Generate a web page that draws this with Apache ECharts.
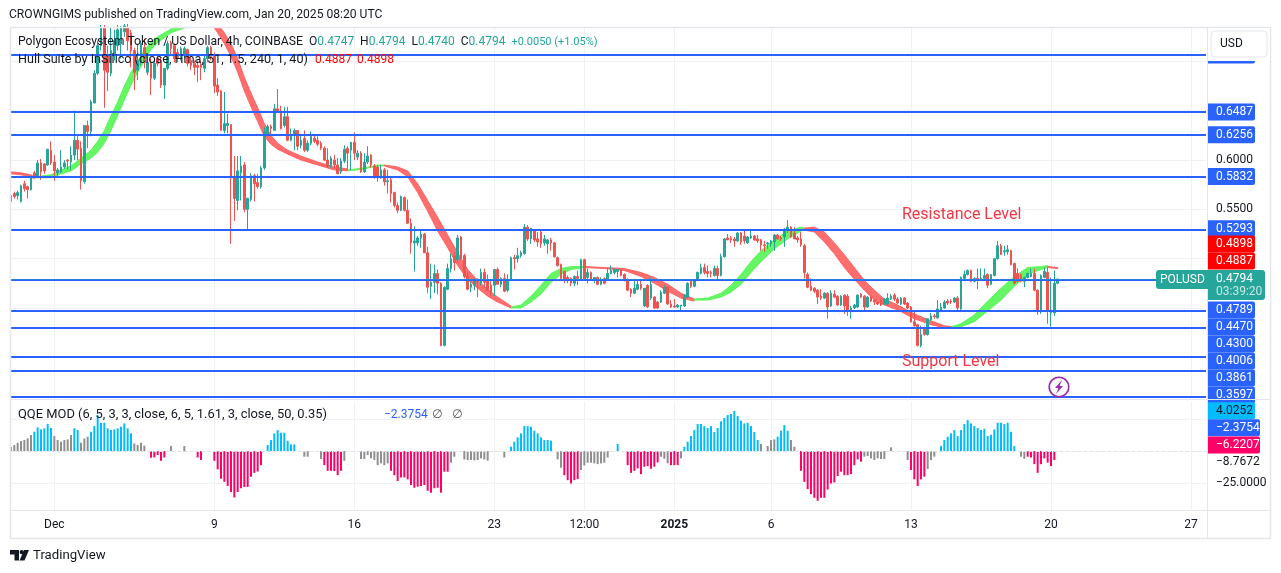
<!DOCTYPE html>
<html><head><meta charset="utf-8">
<style>html,body{margin:0;padding:0;background:#fff}#c{width:1281px;height:573px}</style>
<script src="https://cdn.jsdelivr.net/npm/echarts@6/dist/echarts.min.js"></script>
</head><body><div id="c"></div>
<script>
// candles: [open, high, low, close] in thousandths of a dollar, one row per 4h bar
const ohlc = [
[558,568,553,564],[566,568,561,563],[564,569,560,567],[558,575,557,574],[576,579,568,571],[573,574,561,570],[570,584,569,583],[587,589,582,583],[583,600,583,597],[597,601,580,588],
[596,597,586,589],[595,611,594,611],[610,619,595,597],[598,605,579,589],[587,592,584,590],[588,610,587,593],[593,600,591,597],[600,601,590,599],[598,614,590,605],[605,650,600,620],
[620,625,600,611],[612,619,570,579],[578,635,576,635],[635,640,612,629],[629,661,624,659],[658,691,657,688],[688,721,686,716],[716,737,711,734],[734,737,653,691],[706,716,670,689],
[688,734,685,711],[706,732,701,721],[716,737,711,732],[718,736,703,734],[730,738,725,736],[734,738,711,721],[729,732,694,711],[711,714,671,689],[691,718,681,701],[699,721,696,718],
[714,723,693,699],[689,706,686,699],[698,703,666,683],[683,701,681,698],[703,705,695,698],[699,704,673,676],[676,693,662,693],[693,721,691,718],[719,721,706,713],[716,718,699,703],
[709,713,699,704],[706,715,701,713],[706,715,703,713],[712,713,695,698],[701,706,691,696],[698,701,686,694],[696,701,679,694],[697,701,681,694],[693,706,689,703],[703,716,699,714],
[714,716,701,705],[705,709,668,675],[676,683,665,669],[670,671,630,630],[630,669,627,637],[635,647,627,637],[636,636,515,582],[582,604,538,561],[559,604,549,589],[587,604,559,594],
[595,598,547,550],[550,562,530,561],[560,587,558,584],[584,586,558,576],[577,586,571,573],[573,594,571,592],[592,633,590,629],[625,636,624,634],[634,636,624,632],[630,657,630,652],
[652,672,648,649],[649,655,631,632],[635,654,633,644],[644,654,619,620],[620,632,619,625],[625,632,610,630],[630,630,610,614],[615,626,612,620],[622,630,608,610],[610,620,608,617],
[617,629,615,624],[622,625,617,619],[620,624,614,616],[617,619,610,612],[612,614,599,600],[600,612,592,594],[594,604,592,602],[600,605,592,595],[595,602,586,586],[588,602,586,599],
[599,615,597,611],[612,614,590,607],[610,618,590,618],[618,628,600,607],[603,610,600,607],[607,609,587,588],[588,607,587,598],[598,614,596,604],[605,606,592,595],[594,596,581,583],
[593,595,578,582],[582,595,581,590],[590,592,574,578],[578,590,566,579],[580,583,557,566],[567,568,552,554],[554,557,546,549],[549,564,548,563],[562,563,548,549],[549,560,535,536],
[536,541,505,516],[516,533,487,518],[516,523,513,521],[521,528,511,525],[525,526,506,506],[506,512,465,471],[472,495,459,476],[476,494,465,485],[485,489,464,475],[475,476,411,412],
[412,472,411,471],[469,495,468,490],[490,505,486,500],[503,507,488,496],[499,524,497,521],[522,523,498,500],[503,505,480,482],[482,486,468,469],[471,477,466,474],[473,480,468,478],
[479,480,461,477],[475,490,473,486],[486,490,470,476],[477,484,467,468],[473,477,462,465],[473,489,462,489],[489,491,474,474],[474,481,471,480],[480,485,466,467],[468,484,466,479],
[479,502,478,501],[501,504,489,500],[500,511,496,503],[503,508,501,506],[505,535,504,532],[532,534,518,520],[520,531,515,531],[529,530,517,519],[520,527,512,517],[527,529,511,515],
[516,524,513,520],[515,520,505,519],[519,521,508,516],[516,517,501,502],[501,502,492,493],[494,495,479,480],[487,488,475,479],[481,483,475,479],[480,481,472,475],[475,483,472,482],
[482,488,473,480],[479,500,478,499],[499,500,478,479],[481,490,475,486],[486,487,478,479],[479,481,475,481],[481,482,473,474],[474,481,473,479],[480,481,474,475],[479,490,478,485],
[485,493,484,488],[486,490,484,489],[487,489,481,489],[489,490,482,483],[484,485,477,478],[479,480,467,468],[469,470,461,465],[465,478,464,470],[469,478,468,474],[474,479,468,470],
[452,470,451,470],[473,474,450,451],[460,481,458,474],[461,462,449,450],[456,457,449,450],[456,468,455,466],[465,473,464,471],[471,472,453,454],[454,458,450,451],[452,459,450,451],
[451,454,450,453],[452,453,446,453],[452,464,451,463],[461,476,460,475],[477,479,470,472],[472,479,471,478],[478,487,477,486],[485,495,484,491],[491,495,484,486],[487,493,481,485],
[486,488,481,485],[483,493,482,490],[490,493,479,483],[483,505,482,502],[502,521,501,520],[521,525,519,519],[521,523,516,519],[520,522,512,518],[518,527,517,526],[526,527,514,517],
[523,530,515,518],[516,523,515,522],[521,528,520,523],[523,524,518,519],[520,524,516,518],[519,520,508,514],[514,518,507,513],[515,517,510,516],[515,519,512,518],[517,525,508,524],
[524,525,519,520],[521,523,518,520],[522,531,512,530],[530,539,526,532],[532,533,521,522],[526,532,520,520],[521,523,516,519],[520,527,512,514],[513,515,480,486],[484,486,470,471],
[472,480,467,468],[470,471,465,467],[468,469,454,461],[462,469,458,460],[460,466,459,465],[465,466,439,451],[452,468,451,465],[464,468,460,461],[462,463,452,453],[453,463,452,462],
[463,464,444,452],[462,464,442,448],[448,452,439,450],[450,454,449,453],[451,464,450,463],[464,465,460,461],[462,463,446,451],[451,462,450,461],[461,462,456,457],[458,459,453,456],
[456,457,453,454],[458,459,452,453],[454,460,453,459],[454,465,452,460],[459,464,458,462],[463,465,457,459],[459,461,454,455],[454,461,453,460],[460,461,453,454],[455,456,449,450],
[451,452,435,436],[436,446,431,432],[433,434,411,412],[412,432,410,423],[429,431,422,423],[423,439,422,439],[438,445,437,442],[442,444,439,441],[440,458,439,449],[448,455,447,451],
[450,458,449,456],[457,459,453,455],[457,459,454,456],[456,461,455,460],[460,462,448,450],[449,482,448,481],[480,488,479,484],[484,489,483,488],[488,489,476,477],[477,481,476,480],
[480,490,469,479],[479,490,478,480],[480,490,479,483],[484,485,470,473],[474,484,473,484],[483,500,482,500],[500,518,499,513],[513,515,504,504],[507,513,503,508],[507,514,504,509],
[508,509,493,494],[495,496,474,475],[485,490,476,477],[484,485,476,477],[477,482,471,481],[481,486,480,485],[482,490,481,485],[485,490,467,468],[468,469,443,446],[446,484,444,483],
[481,491,480,487],[486,491,434,448],[445,481,431,448],[445,488,442,475],[475,479.4,474,479.4]
];
// Hull ribbon runs: [bar, upper edge, lower edge], thousandths
const hullRed1 = [[0,588,586],[3,587,585],[6,585,583],[7,583,581]];
const hullGreen1 = [[7,583,582],[12,585,582],[15,590,586],[18,594,589],[21,602,596],[24,610,602],[26,619,608],[28,630,617],[30,645,630],[32,659,645],[34,675,661],[36,689,676],[38,700,689],[40,711,700],[42,720,712],[44,725,719],[46,729,724],[48,733,729],[52,737,734],[56,743,741],[58,746,744]];
const hullRed2 = [[58,746,744],[60,745,739],[62,738,729],[64,729,718],[66,718,705],[68,703,689],[70,684,670],[72,668,654],[74,653,639],[76,637,624],[78,625,616],[80,617,611],[83,610,606],[87,604,600],[92,598,595],[97,593,590],[101,591,589]];
const hullGreen2 = [[101,590,589],[106,592,591],[110,595,594],[112,595,594]];
const hullRed3 = [[112,595,594],[116,593,590],[119,589,583],[122,576,567],[125,559,548],[128,542,528],[131,524,511],[134,506,493],[137,489,479],[140,478,470],[143,469,462],[146,461,456],[150,452,450]];
const hullGreen3 = [[150,451,450],[153,453,450],[156,462,456],[159,473,464],[162,485,476],[165,490,484],[168,492,489],[172,492,491]];
const hullRed4 = [[172,492,491],[178,491,490],[184,490,488],[189,486,482],[193,481,475],[197,474,467],[201,465,460],[205,459,457]];
const hullGreen4 = [[205,459,458],[209,460,458],[213,465,461],[216,473,466],[219,484,474],[222,497,486],[225,508,497],[229,519,510],[233,528,520],[237,532,528],[238,531,529]];
const hullRed5 = [[238,531,529],[241,532,527],[244,527,517],[247,516,505],[250,504,491],[253,491,479],[256,478,468],[259,468,458],[262,459,453],[266,453,448],[271,444,439],[276,437,433],[280,432,430],[282,431,430]];
const hullGreen5 = [[282,431,430],[285,434,431],[289,443,436],[293,457,447],[297,470,458],[301,482,472],[305,491,484],[309,492,489],[311,493,491]];
const hullRed6 = [[311,492,491],[314,491,490]];
const hullRuns = [[hullRed1,'r'],[hullGreen1,'g'],[hullRed2,'r'],[hullGreen2,'g'],[hullRed3,'r'],[hullGreen3,'g'],[hullRed4,'r'],[hullGreen4,'g'],[hullRed5,'r'],[hullGreen5,'g'],[hullRed6,'r']];
// QQE histogram: [bar, value]
const qqeGray = [[0,3.4],[1,4.7],[2,6.5],[3,7.8],[4,8.6],[5,9.9],[6,12.5],[13,11.7],[14,8.6],[15,7.3],[16,8.6],[17,9.1],[18,12.5],[21,6.5],[22,9.9],[23,11.2],[37,6],[38,4.7],[39,6.5],[40,4.2],[48,3.9],[52,3.9],[88,-4.4],[89,-4.4],[93,-6.2],[100,-7.6],[105,-6.2],[106,-6.2],[107,-3.1],[108,-5.7],[109,-7],[110,-11],[111,-9.6],[112,-11],[113,-9.6],[132,-9.1],[133,-4.4],[136,-6.5],[137,-7],[138,-7],[139,-7.3],[140,-7],[141,-5.7],[142,-6.5],[143,-7.5],[148,-5],[164,-6.5],[165,-13],[171,-14.8],[172,-11.2],[173,-9.1],[174,-9.1],[175,-9.6],[176,-10.2],[177,-9.6],[178,-9.1],[179,-5],[195,-4.4],[196,-6],[197,-9.6],[201,-5.7],[225,5.5],[227,3.9],[228,8.6],[229,9.1],[234,8.6],[235,3.4],[256,-4.4],[257,-3.9],[258,-5.7],[259,-7],[260,-5.7],[261,-6.2],[262,-6.2],[264,2.9],[269,-7],[275,-14],[276,-7],[277,-4.4],[303,-4.4],[304,-6]];
const qqeBlue = [[7,15.1],[8,18.5],[9,16.9],[10,17.7],[11,21.1],[12,18],[19,17.7],[20,16.4],[24,15.1],[25,19.5],[26,27.9],[27,22.1],[28,22.1],[29,17.7],[30,16.4],[31,16.9],[32,17.7],[33,19],[34,21.6],[35,17.7],[36,13.8],[77,4.7],[78,8.6],[79,13.8],[80,16.4],[81,14.3],[82,14.3],[83,8],[84,5.2],[85,5.2],[150,3.4],[151,7.3],[152,10.7],[153,13.8],[154,19.5],[155,19.5],[156,19],[157,15.9],[158,13.8],[159,10.7],[160,8.6],[161,8.6],[162,8.1],[182,5.5],[202,3.4],[203,7.3],[204,11.7],[205,16.4],[206,21.1],[207,21.1],[208,19.5],[209,18],[210,19.5],[211,14.8],[212,18],[213,23.2],[214,25.8],[215,28.1],[216,28.9],[217,31.3],[218,27.3],[219,23.7],[220,21.6],[221,22.1],[222,19.5],[223,14.8],[224,8.6],[230,11.2],[231,15.9],[232,20.3],[233,15.9],[279,3.9],[280,8.6],[281,11.2],[282,13.8],[283,16.4],[284,11.7],[285,16.4],[286,21.1],[287,24.2],[288,21.6],[289,19.5],[290,18],[291,16.4],[292,17.4],[293,11.7],[294,12.8],[295,16.9],[296,22.1],[297,22.1],[298,21.1],[299,22.1],[300,15.1],[301,3.9]];
const qqeRed = [[42,-5.2],[43,-5],[44,-3.1],[45,-7.6],[46,-5],[56,-5],[57,-7],[61,-7.6],[62,-14.3],[63,-21.6],[64,-24],[65,-27.3],[66,-32],[67,-36.2],[68,-32],[69,-29],[70,-28],[71,-28],[72,-20],[73,-17],[74,-16],[75,-11],[94,-11],[95,-15.4],[96,-15.4],[97,-15.6],[98,-18.8],[99,-15.4],[114,-15.4],[115,-18.8],[116,-23.4],[117,-20.6],[118,-20.6],[119,-22.1],[120,-26.5],[121,-28.6],[122,-27.8],[123,-27.3],[124,-26.5],[125,-31],[126,-32.5],[127,-29],[128,-28.6],[129,-32.5],[130,-16.1],[131,-16.1],[166,-18.8],[167,-22.7],[168,-25.3],[169,-22.7],[170,-21.9],[185,-11],[186,-17],[187,-15.4],[188,-13.5],[189,-18],[190,-12.2],[191,-11.7],[192,-13.8],[193,-12.2],[194,-8.9],[198,-11],[199,-11],[200,-11],[237,-15.4],[238,-24],[239,-29.7],[240,-33.6],[241,-36.5],[242,-38.8],[243,-36.5],[244,-36.5],[245,-30],[246,-25.3],[247,-24.5],[248,-19.5],[249,-16.1],[250,-18.8],[251,-18.8],[252,-18],[253,-11],[254,-6.5],[255,-8.3],[270,-14.8],[271,-22.1],[272,-27.3],[273,-22.1],[274,-20],[305,-4.4],[306,-5],[307,-10.2],[308,-17],[309,-10.2],[310,-5.7],[311,-9.1],[312,-11.7],[313,-7]];
// levels and labels
const levelPrices = [0.7065,0.6487,0.6256,0.5832,0.5293,0.4789,0.4470,0.4300,0.4006,0.3861,0.3597];
const lastPrice = 0.4794;
const priceTicks = [0.55,0.60];
const priceGrid = [0.40,0.45,0.50,0.55,0.60,0.65,0.70];
const tickBars = [13,61,103,145,172,199,228,270,312,354];
const tickTexts = ['Dec','9','16','23','12:00','2025','6','13','20','27'];
const barCount = 359;
// axis badges: text, price/value where the label sits after the stacking, fill, ink
const priceBadges = [
 ['',0.7065,'#2962ff','#fff'],['0.6487',0.6487,'#2962ff','#fff'],['0.6256',0.6256,'#2962ff','#fff'],['0.5832',0.5832,'#2962ff','#fff'],['0.5293',0.5303,'#2962ff','#fff'],
 ['0.3597',0.3617,'#2962ff','#fff'],['0.3861',0.3789,'#2962ff','#fff'],['0.4006',0.3962,'#2962ff','#fff'],['0.4300',0.4134,'#2962ff','#fff'],['0.4470',0.4306,'#2962ff','#fff'],['0.4789',0.4479,'#2962ff','#fff'],
 ['0.4887',0.4976,'#ff0000','#fff'],['0.4898',0.5148,'#ff0000','#fff']
];
const qqeBadges = [
 ['4.0252',31.5,'#00bcff','#131722'],['\u22122.3754',18.2,'#2962ff','#fff'],['\u22126.2207',4.7,'#ff0066','#fff'],['\u22128.7672',-8.77,'transparent','#131722']
];
const FONT = 'Roboto, "Noto Sans", sans-serif';
const GRID = '#f0f1f4', FRAME = '#e4e6ec', UP = '#26a69a', DOWN = '#ef5350';
const categories = Array.from({length:barCount},(_, i)=>{const k=tickBars.indexOf(i);return k<0?'':tickTexts[k];});
const isTick = i => tickBars.indexOf(i)>=0;
const candleData = ohlc.map(r=>[r[0]/1000,r[3]/1000,r[2]/1000,r[1]/1000]);

const chart = echarts.init(document.getElementById('c'),null,{renderer:'canvas',width:1281,height:573});

function badgeSeries(list,axisIdx,z){
  return {type:'custom',xAxisIndex:axisIdx,yAxisIndex:axisIdx,z:z,silent:true,clip:false,animation:false,
    data:list.map(b=>[0,b[1]]),
    renderItem(p,api){
      const b=list[p.dataIndex], cs=p.coordSys, y=api.coord([0,b[1]])[1], x=cs.x+cs.width+2;
      const w=b[0].length>6?52:47;
      const kids=[{type:'rect',shape:{x:x,y:y-8.5,width:w,height:17,r:[0,2,2,0]},style:{fill:b[2]}}];
      if(b[0])kids.push({type:'text',style:{x:x+8,y:y,text:b[0],fill:b[3],font:'12px '+FONT,textVerticalAlign:'middle'}});
      return {type:'group',children:kids};
    }};
}

const option = {
  animation:false,
  backgroundColor:'#ffffff',
  grid:[
    {left:9.33,top:28,width:1196.67,height:370},
    {left:9.33,top:402,width:1196.67,height:108}
  ],
  xAxis:[
    {type:'category',gridIndex:0,data:categories,boundaryGap:true,axisLine:{show:false},axisTick:{show:false},axisLabel:{show:false},
     splitLine:{show:true,interval:isTick,alignWithLabel:true,lineStyle:{color:GRID,width:1}}},
    {type:'category',gridIndex:1,data:categories,boundaryGap:true,axisLine:{show:false},axisTick:{show:false},
     splitLine:{show:true,interval:isTick,alignWithLabel:true,lineStyle:{color:GRID,width:1}},
     axisLabel:{interval:isTick,margin:9,fontFamily:FONT,fontSize:12,color:'#131722',hideOverlap:false,
       formatter:v=>v==='2025'?'{b|2025}':v,rich:{b:{fontWeight:'bold',fontSize:12,fontFamily:FONT,color:'#131722'}}}}
  ],
  yAxis:[
    {type:'value',gridIndex:0,position:'right',min:0.3587,max:0.7339,scale:true,axisLine:{show:false},axisTick:{show:false,customValues:priceGrid},
     splitLine:{show:true,customValues:priceGrid,lineStyle:{color:GRID,width:1}},
     axisLabel:{customValues:priceTicks,margin:10,fontFamily:FONT,fontSize:12,color:'#131722',formatter:v=>v.toFixed(4)}},
    {type:'value',gridIndex:1,position:'right',min:-46,max:38.3,axisLine:{show:false},axisTick:{show:false,customValues:[-25,25]},
     splitLine:{show:true,customValues:[-25,25],lineStyle:{color:GRID,width:1}},
     axisLabel:{customValues:[-25],margin:10,fontFamily:FONT,fontSize:12,color:'#131722',formatter:()=>'\u221225.0000'}}
  ],
  series:[
    {name:'Hull',type:'custom',xAxisIndex:0,yAxisIndex:0,z:2,silent:true,
     data:hullRuns.map((r,k)=>[k,0.5]),
     renderItem(p,api){
       const run=hullRuns[p.dataIndex], cs=p.coordSys;
       const up=run[0].map(k=>api.coord([k[0],k[1]/1000]));
       const lo=run[0].map(k=>api.coord([k[0],k[2]/1000])).reverse();
       return {type:'group',clipPath:{type:'rect',shape:{x:cs.x,y:cs.y,width:cs.width,height:cs.height}},children:[
         {type:'polygon',shape:{points:up.concat(lo)},
          style:{fill:run[1]==='r'?'rgba(255,90,90,0.88)':'rgba(80,245,80,0.88)',stroke:run[1]==='r'?'rgba(255,90,90,0.88)':'rgba(80,245,80,0.88)',lineWidth:1,lineJoin:'round'}}]};
     }},
    {name:'POLUSD',type:'candlestick',xAxisIndex:0,yAxisIndex:0,z:3,barWidth:2,silent:true,data:candleData,
     itemStyle:{color:UP,color0:DOWN,borderColor:UP,borderColor0:DOWN,borderColorDoji:UP,borderWidth:1},
     markLine:{silent:true,symbol:'none',precision:4,animation:false,label:{show:false},
       data:levelPrices.map(v=>({yAxis:v,lineStyle:{color:'#2962ff',width:2,type:'solid'}})).concat([{yAxis:lastPrice,lineStyle:{color:UP,width:1,type:'dotted'}}])}},
    {name:'QQE gray',type:'bar',xAxisIndex:1,yAxisIndex:1,barWidth:2,barGap:'-100%',z:3,silent:true,itemStyle:{color:'#8f8f8f'},data:qqeGray,
     markLine:{silent:true,symbol:'none',animation:false,label:{show:false},data:[{yAxis:0,lineStyle:{color:'#dfe1e6',width:1,type:'dashed'}}]}},
    {name:'QQE blue',type:'bar',xAxisIndex:1,yAxisIndex:1,barWidth:2,barGap:'-100%',z:3,silent:true,itemStyle:{color:'#00bcff'},data:qqeBlue},
    {name:'QQE red',type:'bar',xAxisIndex:1,yAxisIndex:1,barWidth:2,barGap:'-100%',z:3,silent:true,itemStyle:{color:'#ff0066'},data:qqeRed},
    badgeSeries(priceBadges,0,20),
    badgeSeries(qqeBadges,1,20)
  ],
  graphic:{elements:[
    {type:'rect',silent:true,z:40,shape:{x:0,y:0,width:10,height:573},style:{fill:'#fff'}},
    {type:'rect',silent:true,z:41,shape:{x:10.5,y:27.5,width:1260,height:511},style:{fill:'none',stroke:FRAME,lineWidth:1.5}},
    {type:'line',silent:true,z:41,shape:{x1:1207.5,y1:28,x2:1207.5,y2:538},style:{stroke:FRAME,lineWidth:1}},
    {type:'line',silent:true,z:41,shape:{x1:11,y1:399.5,x2:1270,y2:399.5},style:{stroke:FRAME,lineWidth:1}},
    {type:'line',silent:true,z:41,shape:{x1:11,y1:510.5,x2:1270,y2:510.5},style:{stroke:FRAME,lineWidth:1}},
    {type:'rect',silent:true,z:42,shape:{x:1208,y:28,width:62,height:33},style:{fill:'#fff'}},
    {type:'rect',silent:true,z:43,shape:{x:1211,y:31,width:56,height:26,r:4},style:{fill:'#fff',stroke:FRAME,lineWidth:1}},
    {type:'text',silent:true,z:44,style:{x:1220,y:44,text:'USD',fill:'#131722',font:'12px '+FONT,textVerticalAlign:'middle'}},
    {type:'text',silent:true,z:45,style:{x:9,y:15,text:'CROWNGIMS published on TradingView.com, Jan 20, 2025 08:20 UTC',fill:'#131722',font:'12.1px '+FONT,textVerticalAlign:'middle'}},
    {type:'text',silent:true,z:45,style:{x:18,y:42,text:'Polygon Ecosystem Token / US Dollar, 4h, COINBASE',fill:'#131722',font:'12.2px '+FONT,textVerticalAlign:'middle'}},
    {type:'text',silent:true,z:45,style:{x:309,y:42,fill:'#131722',font:'12px '+FONT,textVerticalAlign:'middle',
      text:'{d|O}{t|0.4747}  {d|H}{t|0.4794}  {d|L}{t|0.4740}  {d|C}{t|0.4794}  {s|+0.0050 (+1.05%)}',
      rich:{d:{fill:'#131722',font:'12px '+FONT},t:{fill:'#26a69a',font:'12px '+FONT},s:{fill:'#26a69a',font:'11px '+FONT}}}},
    {type:'text',silent:true,z:45,style:{x:18,y:60,text:'Hull Suite by InSilico (close, Hma, 51, 1.5, 240, 1, 40)',fill:'#131722',font:'12.6px '+FONT,textVerticalAlign:'middle'}},
    {type:'text',silent:true,z:45,style:{x:315,y:60,text:'0.4887',fill:'#ff0000',font:'12px '+FONT,textVerticalAlign:'middle'}},
    {type:'text',silent:true,z:45,style:{x:357,y:60,text:'0.4898',fill:'#ff0000',font:'12px '+FONT,textVerticalAlign:'middle'}},
    {type:'text',silent:true,z:45,style:{x:18,y:415,text:'QQE MOD (6, 5, 3, 3, close, 6, 5, 1.61, 3, close, 50, 0.35)',fill:'#131722',font:'12.9px '+FONT,textVerticalAlign:'middle'}},
    {type:'text',silent:true,z:45,style:{x:384,y:415,text:'\u22122.3754',fill:'#2962ff',font:'12px '+FONT,textVerticalAlign:'middle'}},
    {type:'text',silent:true,z:45,style:{x:432,y:415,text:'\u2205',fill:'#555',font:'12px "DejaVu Sans"',textVerticalAlign:'middle'}},
    {type:'text',silent:true,z:45,style:{x:452,y:415,text:'\u2205',fill:'#555',font:'12px "DejaVu Sans"',textVerticalAlign:'middle'}},
    {type:'text',silent:true,z:45,style:{x:902,y:215,text:'Resistance Level',fill:'#f23645',font:'16px '+FONT,textVerticalAlign:'middle'}},
    {type:'text',silent:true,z:45,style:{x:902,y:362,text:'Support Level',fill:'#f23645',font:'16px '+FONT,textVerticalAlign:'middle'}},
    {type:'rect',silent:true,z:45,shape:{x:1156,y:270,width:52,height:19,r:[3,0,0,3]},style:{fill:'#26a69a'}},
    {type:'text',silent:true,z:46,style:{x:1160,y:279.5,text:'POLUSD',fill:'#fff',font:'12px '+FONT,textVerticalAlign:'middle'}},
    {type:'rect',silent:true,z:45,shape:{x:1208,y:270,width:57,height:30,r:[0,3,3,0]},style:{fill:'#26a69a'}},
    {type:'text',silent:true,z:46,style:{x:1216,y:279,text:'0.4794',fill:'#fff',font:'12px '+FONT,textVerticalAlign:'middle'}},
    {type:'text',silent:true,z:46,style:{x:1216,y:292,text:'03:39:20',fill:'#c5e8e4',font:'12px '+FONT,textVerticalAlign:'middle'}},
    {type:'circle',silent:true,z:45,shape:{cx:1059,cy:387,r:9.8},style:{fill:'#fff',stroke:'#9c27b0',lineWidth:1.6}},
    {type:'polygon',silent:true,z:46,shape:{points:[[1062,380],[1055,388],[1058.5,388],[1056,394],[1063,386],[1059.5,386]]},style:{fill:'#9c27b0'}},
    {type:'polygon',silent:true,z:45,shape:{points:[[10,550],[19,550],[19,560.5],[14.5,560.5],[14.5,554.5],[10,554.5]]},style:{fill:'#131722'}},
    {type:'polygon',silent:true,z:45,shape:{points:[[24,550],[29,550],[24.5,560.5],[19.5,560.5]]},style:{fill:'#131722'}},
    {type:'circle',silent:true,z:45,shape:{cx:21.7,cy:552.2,r:2.1},style:{fill:'#131722'}},
    {type:'text',silent:true,z:45,style:{x:33,y:556,text:'TradingView',fill:'#131722',font:'13.2px '+FONT,textVerticalAlign:'middle'}}
  ]}
};
chart.setOption(option);
</script></body></html>
